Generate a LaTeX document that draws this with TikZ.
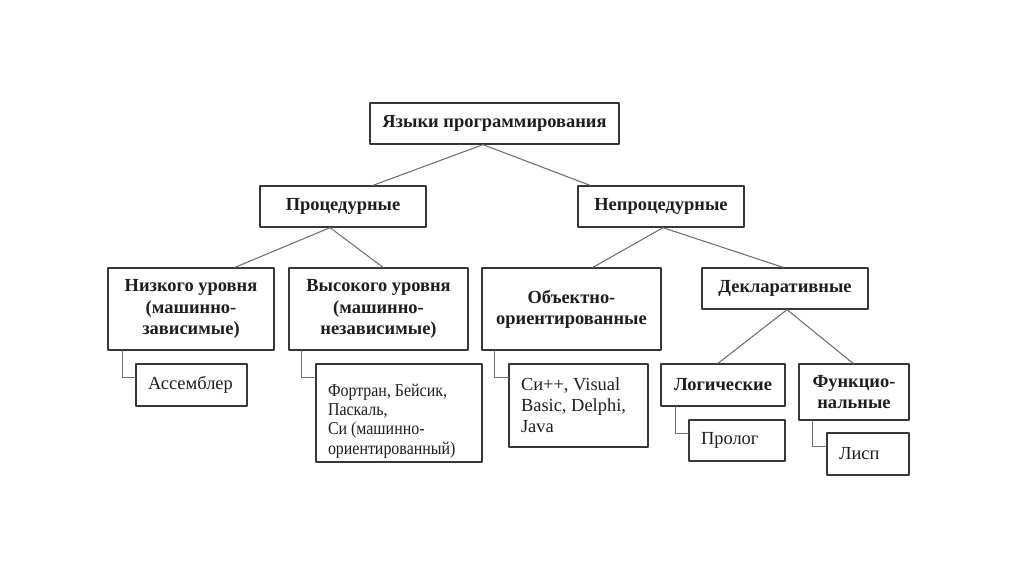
\documentclass[tikz,border=0pt]{standalone}
\usepackage{fontspec}
\setmainfont{Liberation Serif}
\newfontfamily\narrowserif[FakeStretch=0.88]{Liberation Serif}
\usepackage{tikz}
\usetikzlibrary{calc}
\usepackage{xcolor}
\definecolor{boxgray}{RGB}{55, 55, 55}
\definecolor{linkgray}{RGB}{110, 110, 110}
\definecolor{textgray}{RGB}{30, 30, 30}
\newlength\pxu
\setlength\pxu{0.02cm}

\begin{document}
\begin{tikzpicture}[x=0.02cm, y=-0.02cm, line cap=round, line join=round,
	box/.style 2 args={draw=boxgray, line width=0.75pt, text=textgray, inner sep=0pt,
		minimum width=#1\pxu, minimum height=#2\pxu, align=center,
		font=\fontsize{10.5}{12}\selectfont\bfseries},
	leaf/.style 2 args={draw=boxgray, line width=0.75pt, text=textgray, inner xsep=12\pxu, inner ysep=0pt,
		text width=#1\pxu-24\pxu, minimum height=#2\pxu, align=flush left,
		font=\fontsize{10.5}{12}\selectfont},
	link/.style={draw=linkgray, line width=0.6pt}]
	\useasboundingbox (0,0) rectangle (1024,574);
	\fill[white] (0,0) rectangle (1024,574);

	% levels of the tree
	\node[box={249}{41}] (lang) at (494.5,123.5) {Языки программирования};
	\node[box={166}{41}] (proc) at (343,206.5) {Процедурные};
	\node[box={166}{41}] (nonproc) at (661,206.5) {Непроцедурные};
	\node[box={166}{82}] (low) at (191,309) {Низкого уровня\\(машинно-\\зависимые)};
	\node[box={179}{82}] (high) at (378.5,309) {Высокого уровня\\(машинно-\\независимые)};
	\node[box={179}{82}] (oop) at (571.5,309) {Объектно-\\ориентированные};
	\node[box={166}{41}] (decl) at (785,288.5) {Декларативные};
	\node[box={124}{42}] (logic) at (723,385) {Логические};
	\node[box={110}{56}] (func) at (854,392) {Функцио-\\нальные};

	% examples
	\node[leaf={111}{42}] (asm) at (191.5,385) {Ассемблер};
	\node[leaf={166}{98}, font=\narrowserif\fontsize{10.3}{11}\selectfont] (fort) at (399,413)
		{\rule{0pt}{16pt}Фортран, Бейсик,\\Паскаль,\\Си (машинно-\\ориентированный)};
	\node[leaf={139}{83}] (cpp) at (578.5,405.5) {Си++, Visual\\Basic, Delphi,\\Java};
	\node[leaf={96}{41}] (prolog) at (737,440.5) {Пролог};
	\node[leaf={82}{42}] (lisp) at (868,454) {Лисп};

	% branches
	\draw[link] ($(lang.south)+(-11.5,0)$) -- ($(proc.north)+(30,0)$);
	\draw[link] ($(lang.south)+(-11.5,0)$) -- ($(nonproc.north)+(-71,0)$);
	\draw[link] ($(proc.south)+(-13,0)$) -- ($(low.north)+(44,0)$);
	\draw[link] ($(proc.south)+(-13,0)$) -- ($(high.north)+(4.5,0)$);
	\draw[link] ($(nonproc.south)+(2,0)$) -- ($(oop.north)+(21.5,0)$);
	\draw[link] ($(nonproc.south)+(2,0)$) -- ($(decl.north)+(-2,0)$);
	\draw[link] ($(decl.south)+(2,0)$) -- ($(logic.north)+(-5,0)$);
	\draw[link] ($(decl.south)+(2,0)$) -- ($(func.north)+(-1,0)$);

	% elbows to the examples
	\draw[link] ($(low.south west)+(15,0)$) |- ($(asm.north west)+(0,14)$);
	\draw[link] ($(high.south west)+(13,0)$) |- ($(fort.north west)+(0,14)$);
	\draw[link] ($(oop.south west)+(13,0)$) |- ($(cpp.north west)+(0,14)$);
	\draw[link] ($(logic.south west)+(15,0)$) |- ($(prolog.north west)+(0,14)$);
	\draw[link] ($(func.south west)+(14,0)$) |- ($(lisp.north west)+(0,14)$);
\end{tikzpicture}
\end{document}
